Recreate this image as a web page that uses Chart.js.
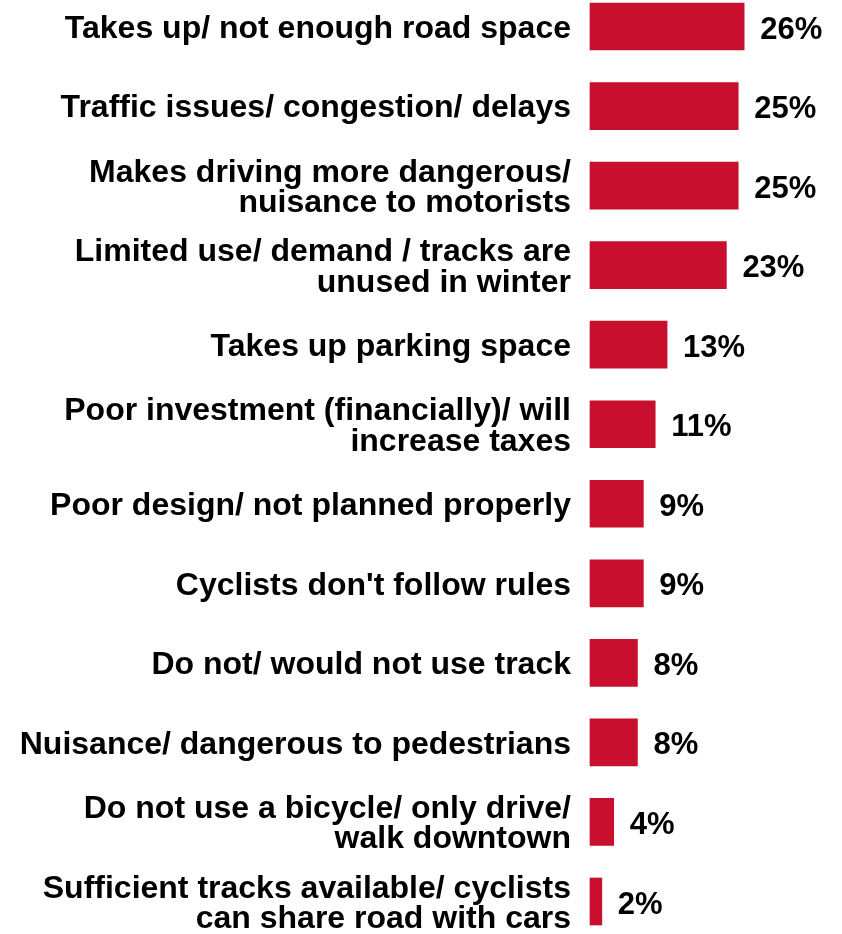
<!DOCTYPE html>
<html>
<head>
<meta charset="utf-8">
<script src="https://cdn.jsdelivr.net/npm/chart.js@4.4.1/dist/chart.umd.min.js"></script>
<style>
  html, body { margin: 0; padding: 0; background: #fff; }
  #wrap { width: 842px; height: 934px; position: relative; }
</style>
</head>
<body>
<div id="wrap"><canvas id="reasonsChart"></canvas></div>
<script>
const categories = [
  "Takes up/ not enough road space",
  "Traffic issues/ congestion/ delays",
  ["Makes driving more dangerous/", "nuisance to motorists"],
  ["Limited use/ demand / tracks are", "unused in winter"],
  "Takes up parking space",
  ["Poor investment (financially)/ will", "increase taxes"],
  "Poor design/ not planned properly",
  "Cyclists don't follow rules",
  "Do not/ would not use track",
  "Nuisance/ dangerous to pedestrians",
  ["Do not use a bicycle/ only drive/", "walk downtown"],
  ["Sufficient tracks available/ cyclists", "can share road with cars"]
];
const percentages = [26, 25, 25, 23, 13, 11, 9, 9, 8, 8, 4, 2];

const FONT = "'Liberation Sans', Arial, sans-serif";

// writes "NN%" just right of each bar
const valueLabels = {
  id: "valueLabels",
  afterDatasetsDraw(chart) {
    const ctx = chart.ctx;
    const meta = chart.getDatasetMeta(0);
    ctx.save();
    ctx.font = "bold 31px " + FONT;
    ctx.fillStyle = "#000";
    ctx.textAlign = "left";
    ctx.textBaseline = "middle";
    meta.data.forEach((bar, i) => {
      ctx.fillText(percentages[i] + "%", bar.x + 16, bar.y + 3.5);
    });
    ctx.restore();
  }
};

new Chart(document.getElementById("reasonsChart"), {
  type: "bar",
  data: {
    labels: categories,
    datasets: [{
      data: percentages,
      backgroundColor: "#C8102E",
      barThickness: 47,
      clip: false
    }]
  },
  options: {
    indexAxis: "y",
    responsive: true,
    maintainAspectRatio: false,
    animation: false,
    layout: { padding: { top: 26.5, bottom: 32.5, left: 0, right: 0 } },
    plugins: {
      legend: { display: false },
      tooltip: { enabled: false }
    },
    scales: {
      x: {
        display: false,
        min: 0,
        max: 42.5
      },
      y: {
        offset: false,
        grid: { display: false, drawTicks: false },
        border: { display: false },
        ticks: {
          color: "#000",
          padding: 19,
          labelOffset: 2.5,
          autoSkip: false,
          font: { family: FONT, size: 32, weight: "bold", lineHeight: 0.95 }
        },
        afterFit(scale) {
          scale.width = 590;
          // don't let label heights push the first/last rows inward
          scale.paddingTop = 0;
          scale.paddingBottom = 0;
        }
      }
    }
  },
  plugins: [valueLabels]
});
</script>
</body>
</html>
